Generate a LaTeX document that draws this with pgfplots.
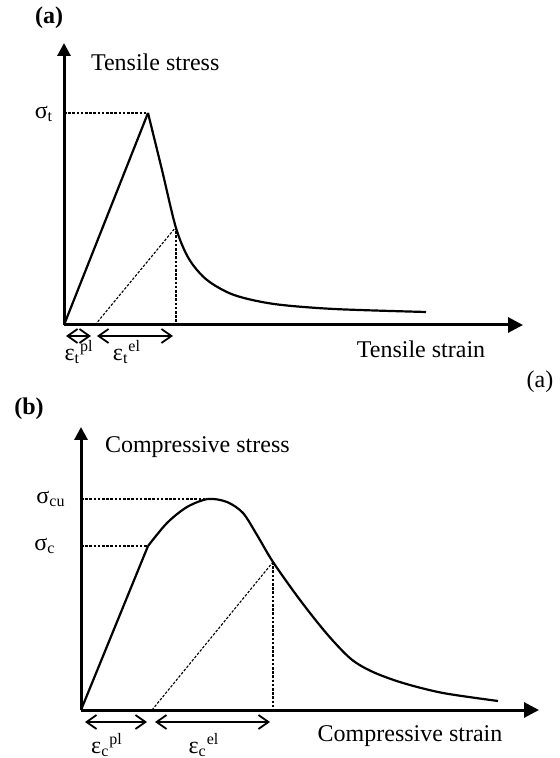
\documentclass[border=0pt]{standalone}
\usepackage{fontspec}
\setmainfont{Liberation Serif}
\usepackage{pgfplots}
\pgfplotsset{compat=1.18}
\usetikzlibrary{arrows.meta}

% one data unit = one pixel of the 559x758 reference (0.5pt)
\pgfplotsset{
  sketch/.style={
    x=0.5pt, y=0.5pt,
    axis lines=left, xtick=\empty, ytick=\empty,
    enlargelimits=false, clip=false,
    axis line style={line width=1.5pt},
    x axis line style={-{Triangle[length=7.5pt,width=7.5pt]}},
    y axis line style={-{Triangle[length=6.5pt,width=6.5pt]}},
    anchor=south west,
  },
  curve/.style={black, line width=1.1pt, no marks},
  guide/.style={black, line width=0.55pt, dash pattern=on 1.3pt off 0.8pt, no marks},
  span/.style={black, line width=0.9pt, no marks,
    {Straight Barb[length=5pt,width=7pt]}-{Straight Barb[length=5pt,width=7pt]}},
}

\begin{document}
\begin{tikzpicture}[every node/.style={font=\fontsize{12}{14}\selectfont}]
\path[use as bounding box] (0,0) rectangle (279.5pt,379pt);

% (a) tension
\begin{axis}[sketch, at={(32pt,216.5pt)}, xmin=0, xmax=459, ymin=0, ymax=282]
  \addplot[guide] coordinates {(0,212)(84,212)};
  \addplot[guide] coordinates {(112,98)(112,0)};
  \addplot[guide] coordinates {(31,0)(112,98)};
  \addplot[curve] coordinates {(0,0)(84,212)};
  \addplot[curve, smooth] coordinates {
    (84,212)(98,155)(112,97)(125,66)(143,45)(170,30)(210,21)(270,16)(362,13)};
  \addplot[span] coordinates {(2,-11)(27,-11)};
  \addplot[span] coordinates {(33,-11)(109,-11)};
  \node[font=\fontsize{12}{14}\selectfont\bfseries] at (axis cs:-15,307) {(a)};
  \node[anchor=west] at (axis cs:20,263) {Tensile stress};
  \node at (axis cs:-20,211) {σ\textsubscript{t}};
  \node at (axis cs:15,-27) {ε\textsubscript{t}\textsuperscript{pl}};
  \node at (axis cs:63,-27) {ε\textsubscript{t}\textsuperscript{el}};
  \node at (axis cs:357,-24) {Tensile strain};
  \node at (axis cs:476,-57) {(a)};
\end{axis}

% (b) compression
\begin{axis}[sketch, at={(40.5pt,24pt)}, xmin=0, xmax=458, ymin=0, ymax=283]
  \addplot[guide] coordinates {(0,211)(127,211)};
  \addplot[guide] coordinates {(0,164)(67,164)};
  \addplot[guide] coordinates {(192,148)(192,0)};
  \addplot[guide] coordinates {(71,0)(192,148)};
  \addplot[curve] coordinates {(0,0)(67,164)};
  \addplot[curve, smooth] coordinates {
    (67,164)(86,187)(106,203)(127,211)(146,208)(162,197)(176,175)(192,148)
    (219,110)(246,76)(270,51)(292,38)(322,27)(362,17)(417,9)};
  \addplot[span] coordinates {(4,-12)(66,-12)};
  \addplot[span] coordinates {(74,-12)(189,-12)};
  \node[font=\fontsize{12}{14}\selectfont\bfseries] at (axis cs:-52,301) {(b)};
  \node[anchor=west] at (axis cs:17,263) {Compressive stress};
  \node at (axis cs:-30,211) {σ\textsubscript{cu}};
  \node at (axis cs:-36,164) {σ\textsubscript{c}};
  \node at (axis cs:26,-35) {ε\textsubscript{c}\textsuperscript{pl}};
  \node at (axis cs:123,-35) {ε\textsubscript{c}\textsuperscript{el}};
  \node at (axis cs:329,-26) {Compressive strain};
\end{axis}
\end{tikzpicture}
\end{document}
